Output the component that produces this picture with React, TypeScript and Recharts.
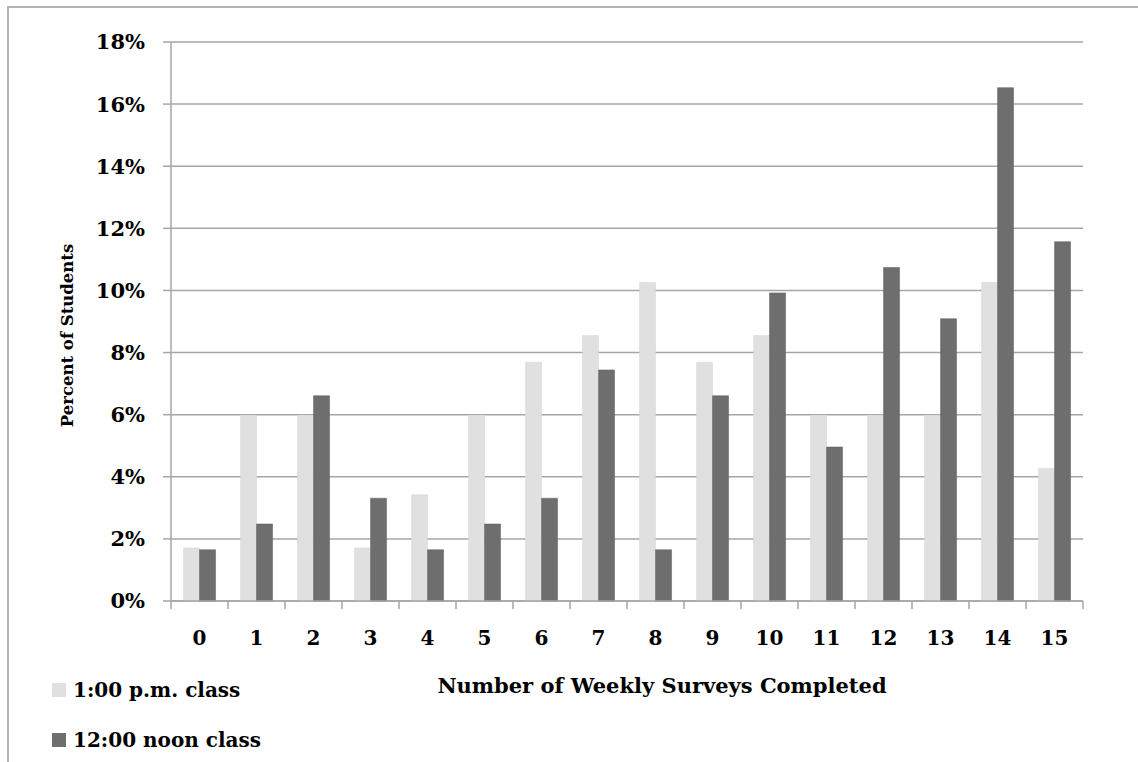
import React from 'react';
import { BarChart, Bar, XAxis, YAxis, CartesianGrid, Legend } from 'recharts';

const categories = ['0', '1', '2', '3', '4', '5', '6', '7', '8', '9', '10', '11', '12', '13', '14', '15'];
const onePmClass = [1.71, 5.98, 5.98, 1.71, 3.42, 5.98, 7.69, 8.55, 10.26, 7.69, 8.55, 5.98, 5.98, 5.98, 10.26, 4.27];
const noonClass = [1.65, 2.48, 6.61, 3.31, 1.65, 2.48, 3.31, 7.44, 1.65, 6.61, 9.92, 4.96, 10.74, 9.09, 16.53, 11.57];
const yTicks = [0, 2, 4, 6, 8, 10, 12, 14, 16, 18];
const seriesOrder = ['onePm', 'noon'];

const data = categories.map((name, i) => ({
  name,
  onePm: onePmClass[i],
  noon: noonClass[i],
}));

const FONT = '"DejaVu Serif", serif';
const GRID = '#a6a6a6';
const LIGHT = '#e0e0e0';
const DARK = '#6e6e6e';
const TICK_MARGIN = 30;

// category ticks: label in the middle, tick marks on the band edges (Excel style)
const CategoryTick = (props: any) => {
  const { x, y, payload, index, visibleTicksCount } = props;
  const half = payload && payload.offset ? payload.offset : 28.5;
  const axisY = y - TICK_MARGIN;
  return (
    <g>
      <line x1={x - half} x2={x - half} y1={axisY} y2={axisY + 8} stroke={GRID} strokeWidth={1.5} />
      {index === visibleTicksCount - 1 && (
        <line x1={x + half} x2={x + half} y1={axisY} y2={axisY + 8} stroke={GRID} strokeWidth={1.5} />
      )}
      <text x={x} y={y} dy="0.71em" textAnchor="middle" fill="#000" fontFamily={FONT} fontWeight="bold" fontSize={20}>
        {payload.value}
      </text>
    </g>
  );
};

const LegendBox = (props: any) => {
  const items = [...(props.payload || [])].sort(
    (a: any, b: any) => seriesOrder.indexOf(a.dataKey) - seriesOrder.indexOf(b.dataKey)
  );
  return (
    <div style={{ fontFamily: FONT, fontWeight: 'bold', fontSize: 20, color: '#000' }}>
      {items.map((it: any, i: number) => (
        <div key={i} style={{ display: 'flex', alignItems: 'center', height: 50 }}>
          <span style={{ display: 'inline-block', width: 14, height: 14, background: it.color, marginRight: 7 }} />
          {it.value}
        </div>
      ))}
    </div>
  );
};

const YTitle = (props: any) => {
  const vb = props.viewBox || { y: 0, height: 0 };
  const cy = vb.y + vb.height / 2 + 14;
  return (
    <text
      x={67}
      y={cy}
      transform={`rotate(-90 67 ${cy})`}
      textAnchor="middle"
      dominantBaseline="central"
      fill="#000"
      fontFamily={FONT}
      fontWeight="bold"
      fontSize={16.5}
    >
      Percent of Students
    </text>
  );
};

export default function App() {
  return (
    <div style={{ position: 'absolute', left: 0, top: 0, width: 1138, height: 762, background: '#fff' }}>
      <div style={{ position: 'absolute', left: 7, top: 6, width: 1140, height: 770, border: '2px solid #b3b3b3', boxSizing: 'border-box' }} />
      <BarChart
        width={1138}
        height={762}
        data={data}
        margin={{ top: 42, right: 55, bottom: 81, left: 0 }}
        barCategoryGap="22%"
        barGap={0}
      >
        <CartesianGrid vertical={false} stroke={GRID} strokeWidth={1.5} />
        <XAxis
          dataKey="name"
          height={80}
          interval={0}
          tickLine={false}
          tickSize={0}
          tickMargin={TICK_MARGIN}
          axisLine={{ stroke: GRID, strokeWidth: 1.5 }}
          tick={<CategoryTick />}
          label={{
            value: 'Number of Weekly Surveys Completed',
            position: 'insideBottom',
            offset: -12,
            dx: 35,
            fill: '#000',
            fontFamily: FONT,
            fontWeight: 'bold',
            fontSize: 21,
          }}
        />
        <YAxis
          width={171}
          domain={[0, 18]}
          ticks={yTicks}
          interval={0}
          tickFormatter={(v: number) => `${v}%`}
          tickSize={8}
          tickMargin={18}
          tickLine={{ stroke: GRID, strokeWidth: 1.5 }}
          axisLine={{ stroke: GRID, strokeWidth: 1.5 }}
          tick={{ fill: '#000', fontFamily: FONT, fontWeight: 'bold', fontSize: 21 }}
          label={<YTitle />}
        />
        <Legend
          layout="horizontal"
          align="center"
          verticalAlign="middle"
          content={<LegendBox />}
          wrapperStyle={{ left: 52, top: 665, width: 300, height: 100 }}
        />
        <Bar dataKey="onePm" name="1:00 p.m. class" fill={LIGHT} stroke="#d6d6d6" strokeWidth={0.5} isAnimationActive={false} />
        <Bar dataKey="noon" name="12:00 noon class" fill={DARK} stroke="#5e5e5e" strokeWidth={0.5} isAnimationActive={false} />
      </BarChart>
    </div>
  );
}
